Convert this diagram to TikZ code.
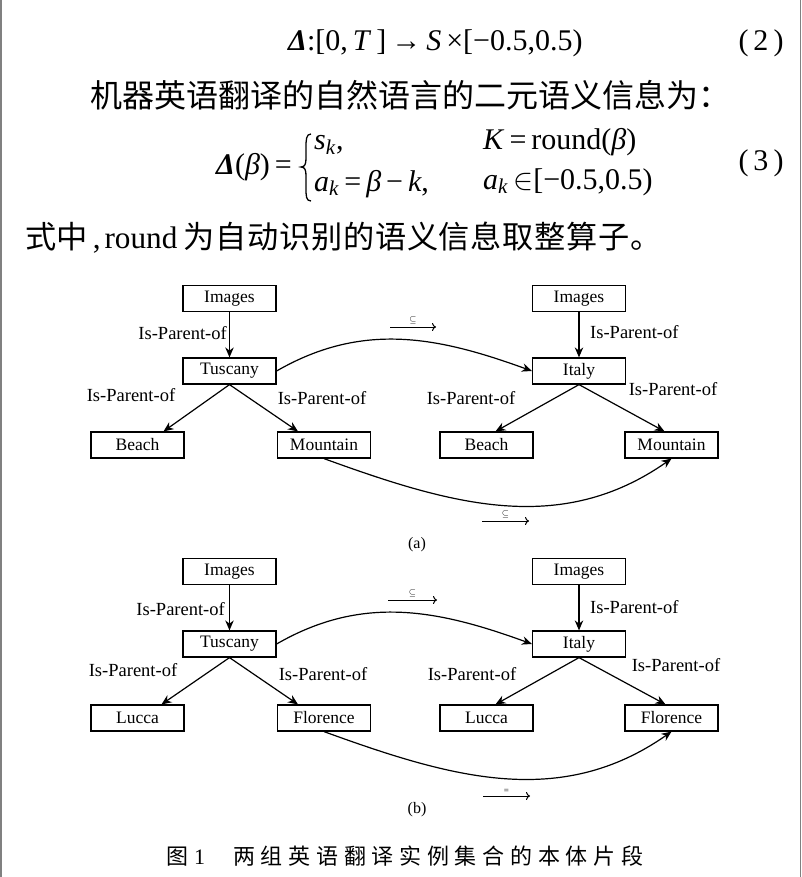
\documentclass[tikz,border=0pt]{standalone}
\usepackage{fix-cm}
\usepackage{fontspec}
\setmainfont{Liberation Serif}
\newfontfamily\cjk{Noto Sans CJK SC}
\usetikzlibrary{arrows.meta}

\begin{document}
\begin{tikzpicture}[x=1pt,y=1pt,
  box/.style={draw, line width=1.2pt, minimum width=93pt, minimum height=26pt, inner sep=0pt, font=\fontsize{17.5}{20}\selectfont},
  rel/.style={inner sep=0pt, font=\fontsize{18.5}{21}\selectfont},
  edge/.style={line width=1.2pt, -{Stealth[length=10pt,width=8.5pt]}},
  subarr/.style={line width=1pt, -{To[length=4pt,width=8pt]}},
  eqn/.style={inner sep=0pt, anchor=west, font=\fontsize{30}{34}\selectfont},
  zh/.style={inner sep=0pt, anchor=west, font=\cjk\fontsize{32}{34}\selectfont}]
\useasboundingbox (0,0) rectangle (802,-877);
\draw[gray, line width=1.5pt] (1,0) -- (1,-877);
\draw[gray, line width=1.5pt] (800.5,0) -- (800.5,-877);

% text above the figure
\node[eqn] (eq2) at (288,-43) {\textbf{\itshape Δ}:[0,\,\textit{T}\,]\,→\,\textit{S}\,×[−0.5,0.5)};
\node[eqn, anchor=center] (n2) at (761,-43) {(\,2\,)};
\node[zh] (ln2) at (90,-95) {机器英语翻译的自然语言的二元语义信息为：};
\node[eqn] (lhs) at (216,-167) {\textbf{\itshape Δ}(\textit{β})\,=};
\draw[line width=1.3pt] (311,-134) .. controls (306,-134) and (306,-140) .. (306,-148) -- (306,-158)
  .. controls (306,-164) and (305,-167) .. (301,-167) .. controls (305,-167) and (306,-170) .. (306,-176)
  -- (306,-188) .. controls (306,-196) and (306,-201) .. (311,-201);
\node[eqn] (c1) at (314,-145) {\textit{s}\textsubscript{\textit{k}},};
\node[eqn] (c2) at (314,-184) {\textit{a}\textsubscript{\textit{k}}\,=\,\textit{β}\,−\,\textit{k},};
\node[eqn] (c3) at (483,-142) {\textit{K}\,=\,round(\textit{β})};
\node[eqn] (c4) at (483,-182) {\textit{a}\textsubscript{\textit{k}}\,$\in$[−0.5,0.5)};
\node[eqn, anchor=center] (n3) at (761,-163) {(\,3\,)};
\node[zh, font=\cjk\fontsize{31.2}{34}\selectfont] (ln4) at (25,-238) {式中\,{\rmfamily,}\hspace{4pt}{\rmfamily round}\hspace{6pt}\addfontfeature{LetterSpace=2.4}为自动识别的语义信息取整算子。};

% (a)
\node[box] (img1) at (229.5,-298.5) {Images};
\node[box] (tus1) at (229.5,-371) {Tuscany};
\node[box] (bch1) at (137.5,-445) {Beach};
\node[box] (mnt1) at (324,-445) {Mountain};
\node[box] (img2) at (579,-298.5) {Images};
\node[box] (ita2) at (579,-371) {Italy};
\node[box] (bch2) at (486.5,-445) {Beach};
\node[box] (mnt2) at (671.5,-445) {Mountain};
\draw[edge] (img1) -- (tus1);
\draw[edge] (tus1.south) -- ([xshift=26pt]bch1.north);
\draw[edge] (tus1.south) -- ([xshift=-26pt]mnt1.north);
\draw[edge] (img2) -- (ita2);
\draw[edge] (ita2.south) -- ([xshift=9pt]bch2.north);
\draw[edge] (ita2.south) -- ([xshift=-7pt]mnt2.north);
\draw[edge] (tus1.east) to[out=30,in=160] (ita2.west);
\draw[edge] (mnt1.south) to[out=-20,in=-145] (mnt2.south);
\node[rel, anchor=east] (r1) at (227,-333) {Is-Parent-of};
\node[rel] (r2) at (131,-395) {Is-Parent-of};
\node[rel] (r3) at (322,-398) {Is-Parent-of};
\node[rel, anchor=west] (r4) at (590,-332) {Is-Parent-of};
\node[rel] (r5) at (471,-398) {Is-Parent-of};
\node[rel] (r6) at (673,-389) {Is-Parent-of};
\coordinate (s1a) at (390,-327);
\coordinate (s1b) at (436,-327);
\coordinate (s2a) at (482,-521);
\coordinate (s2b) at (529,-521);
\draw[subarr] (s1a) -- node[above=-1pt, font=\fontsize{9}{9}\selectfont] {$\subseteq$} (s1b);
\draw[subarr] (s2a) -- node[above=-1pt, font=\fontsize{9}{9}\selectfont] {$\subseteq$} (s2b);
\node[font=\fontsize{16}{18}\selectfont] (capa) at (417,-545) {(a)};

% (b)
\node[box] (img3) at (229.5,-571.5) {Images};
\node[box] (tus3) at (229.5,-644) {Tuscany};
\node[box] (luc3) at (137.5,-718) {Lucca};
\node[box] (flo3) at (324,-718) {Florence};
\node[box] (img4) at (579,-571.5) {Images};
\node[box] (ita4) at (579,-644) {Italy};
\node[box] (luc4) at (486.5,-718) {Lucca};
\node[box] (flo4) at (671.5,-718) {Florence};
\draw[edge] (img3) -- (tus3);
\draw[edge] (tus3.south) -- ([xshift=24pt]luc3.north);
\draw[edge] (tus3.south) -- ([xshift=-26pt]flo3.north);
\draw[edge] (img4) -- (ita4);
\draw[edge] (ita4.south) -- ([xshift=9pt]luc4.north);
\draw[edge] (ita4.south) -- ([xshift=-6pt]flo4.north);
\draw[edge] (tus3.east) to[out=30,in=160] (ita4.west);
\draw[edge] (flo3.south) to[out=-20,in=-145] (flo4.south);
\node[rel, anchor=east] (r7) at (225,-609) {Is-Parent-of};
\node[rel] (r8) at (133,-670) {Is-Parent-of};
\node[rel] (r9) at (323,-674) {Is-Parent-of};
\node[rel, anchor=west] (r10) at (590,-607) {Is-Parent-of};
\node[rel] (r11) at (472,-674) {Is-Parent-of};
\node[rel] (r12) at (676,-665) {Is-Parent-of};
\coordinate (s3a) at (388,-600);
\coordinate (s3b) at (437,-600);
\coordinate (s4a) at (483,-796);
\coordinate (s4b) at (530,-796);
\draw[subarr] (s3a) -- node[above=-1pt, font=\fontsize{9}{9}\selectfont] {$\subseteq$} (s3b);
\draw[subarr] (s4a) -- node[above=-1pt, font=\fontsize{9}{9}\selectfont] {=} (s4b);
\node[font=\fontsize{16}{18}\selectfont] (capb) at (417,-810) {(b)};

\node[inner sep=0pt, anchor=west, font=\cjk\fontsize{22}{24}\selectfont] (cap) at (166,-856) {图\hspace{6pt}{\rmfamily 1}\hspace{28pt}\addfontfeature{LetterSpace=26}两组英语翻译实例集合的本体片段};
\end{tikzpicture}
\end{document}
